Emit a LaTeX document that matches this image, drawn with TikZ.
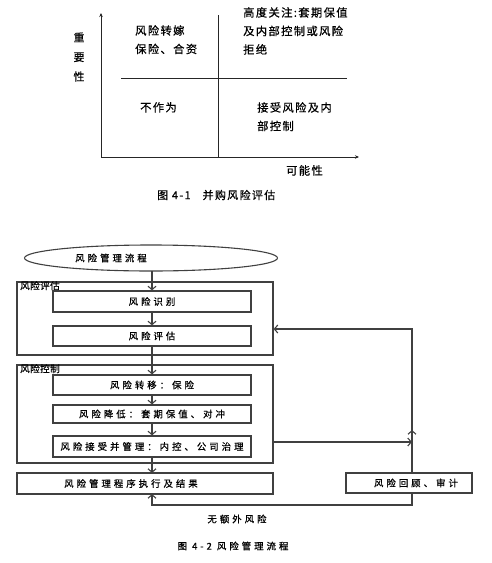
\documentclass[tikz,border=0pt]{standalone}
\usepackage{fontspec}
\setmainfont{Noto Sans CJK SC}
\newfontfamily\cjkA[LetterSpace=12,FakeBold=0.6]{Noto Sans CJK SC}
\newfontfamily\cjkC[LetterSpace=4,FakeBold=0.6]{Noto Sans CJK SC}
\newfontfamily\cjkB[LetterSpace=32,FakeBold=0.6]{Noto Sans CJK SC}
\usetikzlibrary{arrows.meta,shapes.geometric}
\begin{document}
\begin{tikzpicture}[x=1pt,y=-1pt,
  axis/.style={line width=0.9pt,black!85,-{Stealth[length=4pt,width=3.5pt]}},
  divl/.style={line width=0.9pt,black!85},
  qtext/.style={font=\cjkA\fontsize{11.3}{18.5}\selectfont,align=left,anchor=north west,inner sep=0pt},
  box/.style={draw=black!75,line width=1.2pt,rectangle,inner sep=0pt},
  btext/.style={font=\cjkB\fontsize{9.4}{10}\selectfont},
  conn/.style={line width=1.1pt,black!75,-{Straight Barb[length=3.5pt,width=8pt]}},
  lbl/.style={font=\cjkC\fontsize{9.6}{10}\selectfont,inner sep=0pt}
]
\useasboundingbox (0,0) rectangle (491,563);
% ---------- Figure 4-1 ----------
\coordinate (o) at (101,157);
\coordinate (ytop) at (101,13);
\coordinate (xend) at (359,157);
\coordinate (vtop) at (218,15);
\coordinate (vbot) at (218,157);
\coordinate (hl) at (121,78);
\coordinate (hr) at (347,78);
\draw[axis] (o) -- (ytop);
\draw[axis] (o) -- (xend);
\draw[divl] (vtop) -- (vbot);
\draw[divl] (hl) -- (hr);
\node[qtext] (q1) at (135,25) {风险转嫁\\保险、合资};
\node[qtext] (q2) at (243,7) {高度关注:套期保值\\及内部控制或风险\\拒绝};
\node[qtext] (q3) at (140,102) {不作为};
\node[qtext] (q4) at (257,102) {接受风险及内\\部控制};
\node[qtext] (xl) at (286,165) {可能性};
\node[font=\cjkA\fontsize{11}{19.5}\selectfont,align=center,inner sep=0pt] (yl) at (79,57) {重\\要\\性};
\node[font=\cjkA\fontsize{11}{12}\selectfont,inner sep=0pt,anchor=west] (cap1) at (157,195) {图 4-1\hspace{12pt}并购风险评估};
% ---------- Figure 4-2 ----------
\node[draw=black!75,line width=1.1pt,ellipse,minimum width=253pt,minimum height=26pt,inner sep=0pt] (start) at (151,258) {};
\node[btext] (starttext) at (111,258) {风险管理流程};
\node[box,minimum width=256pt,minimum height=73pt] (evalbox) at (145,318.5) {};
\node[lbl,anchor=north west] (evallbl) at (20,281) {风险评估};
\node[box,minimum width=198pt,minimum height=21pt,btext] (ident) at (152,301.5) {风险识别};
\node[box,minimum width=198pt,minimum height=20pt,btext] (assess) at (152,336) {风险评估};
\node[box,minimum width=256pt,minimum height=98pt] (ctrlbox) at (145,414) {};
\node[lbl,anchor=north west] (ctrllbl) at (20,364) {风险控制};
\node[box,minimum width=198pt,minimum height=20pt,btext] (transfer) at (152,385) {风险转移：保险};
\node[box,minimum width=198pt,minimum height=18pt,btext] (reduce) at (152,414) {风险降低：套期保值、对冲};
\node[box,minimum width=198pt,minimum height=21pt,btext] (accept) at (152,446.5) {风险接受并管理：内控、公司治理};
\node[box,minimum width=256pt,minimum height=21pt] (exec) at (145,483.5) {};
\node[btext] (exectext) at (131,483.5) {风险管理程序执行及结果};
\node[box,minimum width=126pt,minimum height=20pt] (review) at (409,483) {};
\node[btext] (reviewtext) at (416,483) {风险回顾、审计};
\node[btext] (norisk) at (237,519) {无额外风险};
\node[btext] (cap2) at (233,546) {图 4-2 风险管理流程};
% connectors
\coordinate (s1) at (152,271);
\draw[conn] (s1) -- (ident.north);
\draw[conn] (ident.south) -- (assess.north);
\draw[conn] (assess.south) -- (transfer.north);
\draw[conn] (transfer.south) -- (reduce.north);
\draw[conn] (reduce.south) -- (accept.north);
\coordinate (ex0) at (152,473);
\draw[conn] (accept.south) -- (ex0);
\coordinate (rvtop) at (412,473);
\coordinate (rvbot) at (412,493);
\coordinate (fb1) at (412,505);
\coordinate (fb2) at (152,505);
\coordinate (ex1) at (152,494);
\draw[conn] (rvbot) -- (fb1) -- (fb2) -- (ex1);
\coordinate (up1) at (412,329);
\coordinate (ev1) at (273.6,329);
\draw[conn] (rvtop) -- (up1) -- (ev1);
\coordinate (uptip) at (412,430);
\draw[conn] (rvtop) -- (uptip);
\coordinate (ac1) at (273.6,442);
\coordinate (ac2) at (412,442);
\draw[conn] (ac1) -- (ac2);
\end{tikzpicture}
\end{document}
